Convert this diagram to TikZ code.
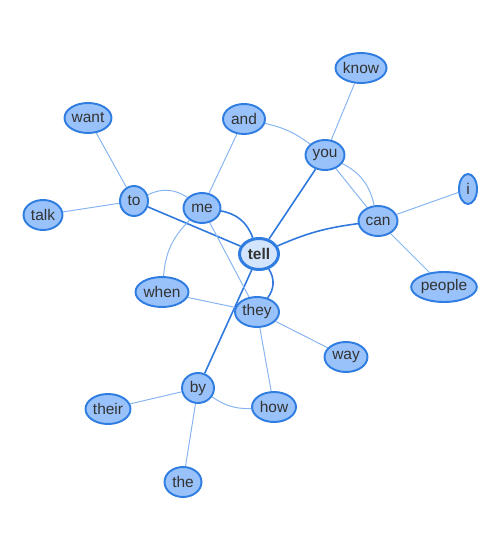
\documentclass[tikz,border=0pt]{standalone}
\usepackage{fontspec}
\setmainfont{Liberation Sans}
\usetikzlibrary{shapes.geometric,backgrounds}

\definecolor{wordfill}{HTML}{99C2FA}
\definecolor{wordline}{HTML}{2F7DE1}
\definecolor{hubfill}{HTML}{D2E5FC}
\definecolor{linklight}{HTML}{86B4F0}
\definecolor{linkdark}{HTML}{2F78DE}
\definecolor{wordtext}{HTML}{333333}

\begin{document}
\begin{tikzpicture}[x=0.02cm,y=-0.02cm,
    word/.style={ellipse, draw=wordline, fill=wordfill, line width=1.1pt,
        inner sep=0pt, minimum height=0.6cm, minimum width=#1,
        text=wordtext, font=\fontsize{8.8}{10}\selectfont},
    hub/.style={word=#1, fill=hubfill, line width=1.7pt, minimum height=0.62cm,
        font=\fontsize{8.8}{10}\selectfont\bfseries},
    weak/.style={draw=linklight, line width=0.55pt},
    strong/.style={draw=linkdark, line width=0.9pt}]

    % 画布 (像素坐标)
    \useasboundingbox (0,0) rectangle (500,550);

    % 中心词
    \node[hub=0.78cm] (tell) at (259,254) {tell};

    % 其余词
    \node[word=0.94cm] (want) at (88,118) {want};
    \node[word=0.78cm] (talk) at (43,215) {talk};
    \node[word=0.56cm] (to) at (134,201) {to};
    \node[word=0.74cm] (me) at (202,208) {me};
    \node[word=0.84cm] (and) at (244,119) {and};
    \node[word=1.02cm] (know) at (361,68) {know};
    \node[word=0.78cm] (you) at (325,155) {you};
    \node[word=0.78cm] (can) at (378,221) {can};
    \node[word=0.36cm] (i) at (468,189) {i};
    \node[word=1.26cm] (people) at (444,287) {people};
    \node[word=1.06cm] (when) at (162,292) {when};
    \node[word=0.88cm] (they) at (257,312) {they};
    \node[word=0.86cm] (way) at (346,357) {way};
    \node[word=0.64cm] (by) at (198,388) {by};
    \node[word=0.90cm] (their) at (108,409) {their};
    \node[word=0.88cm] (how) at (274,407) {how};
    \node[word=0.74cm] (the) at (183,482) {the};

    % 连线
    \begin{scope}[on background layer]
        % 与中心词相连
        \draw[strong] (to) -- (tell);
        \draw[strong] (me) to[bend left=30] (tell);
        \draw[strong] (you) -- (tell);
        \draw[strong] (tell) to[bend left=8] (can);
        \draw[strong] (tell) to[bend left=35] (they);
        \draw[strong] (tell) -- (by);

        % 其余
        \draw[weak] (want) -- (to);
        \draw[weak] (talk) -- (to);
        \draw[weak] (to) to[bend left=30] (me);
        \draw[weak] (me) -- (and);
        \draw[weak] (me) to[bend right=20] (when);
        \draw[weak] (me) -- (they);
        \draw[weak] (and) to[bend left=12] (you);
        \draw[weak] (know) -- (you);
        \draw[weak] (you) -- (can);
        \draw[weak] (you) to[bend left=25] (can);
        \draw[weak] (can) -- (i);
        \draw[weak] (can) -- (people);
        \draw[weak] (when) -- (they);
        \draw[weak] (they) -- (way);
        \draw[weak] (they) -- (how);
        \draw[weak] (by) -- (their);
        \draw[weak] (by) to[bend right=18] (how);
        \draw[weak] (by) -- (the);
    \end{scope}

\end{tikzpicture}
\end{document}
